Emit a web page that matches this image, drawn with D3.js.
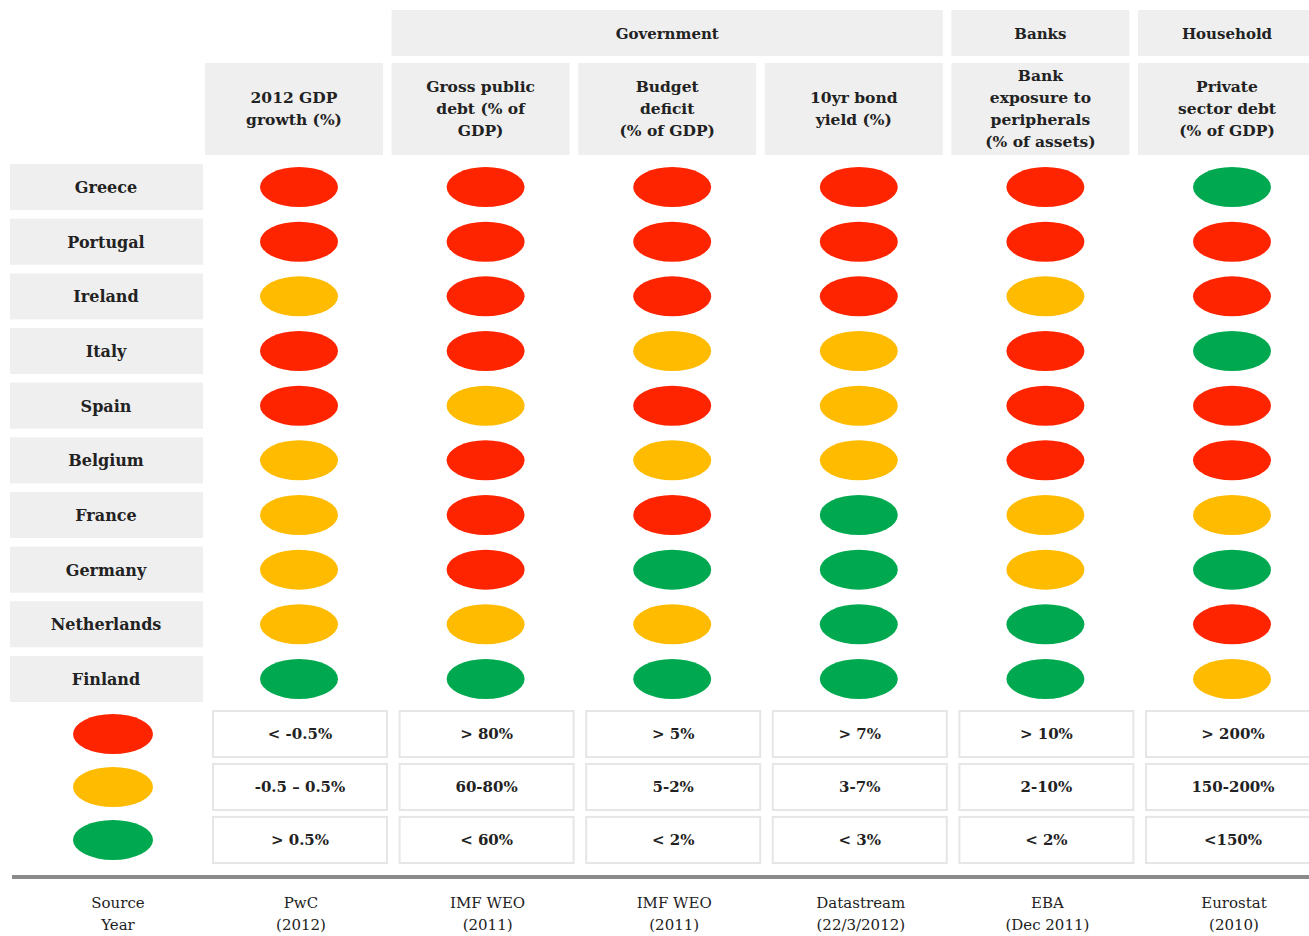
<html lang="en">
<head>
<style>
body { margin: 0; background: #fff; }
text { font-family: "DejaVu Serif", Georgia, serif; fill: #222; }
</style>
</head>
<body>
<div id="chart"></div>
<script type='text/javascript' src='https://d3js.org/d3.v7.min.js'></script>
<script>
// countries (rows) and indicators (columns)
const countries = ["Greece", "Portugal", "Ireland", "Italy", "Spain", "Belgium", "France", "Germany", "Netherlands", "Finland"];
const indicators = ["gdp", "debt", "deficit", "bond", "banks", "private"];
const headerLines = [
  ["2012 GDP", "growth (%)"],
  ["Gross public", "debt (% of", "GDP)"],
  ["Budget", "deficit", "(% of GDP)"],
  ["10yr bond", "yield (%)"],
  ["Bank", "exposure to", "peripherals", "(% of assets)"],
  ["Private", "sector debt", "(% of GDP)"]
];
const groups = [
  {name: "Government", from: "debt", to: "bond"},
  {name: "Banks", from: "banks", to: "banks"},
  {name: "Household", from: "private", to: "private"}
];
// R = red, Y = amber, G = green, one string per country in indicator order
const ratings = [
  "RRRRRG", // Greece
  "RRRRRR", // Portugal
  "YRRRYR", // Ireland
  "RRYYRG", // Italy
  "RYRYRR", // Spain
  "YRYYRR", // Belgium
  "YRRGYY", // France
  "YRGGYG", // Germany
  "YYYGGR", // Netherlands
  "GGGGGY"  // Finland
];
const levels = ["R", "Y", "G"];
const thresholds = [
  ["< -0.5%", "-0.5 \u2013 0.5%", "> 0.5%"],
  ["> 80%", "60-80%", "< 60%"],
  ["> 5%", "5-2%", "< 2%"],
  ["> 7%", "3-7%", "< 3%"],
  ["> 10%", "2-10%", "< 2%"],
  ["> 200%", "150-200%", "<150%"]
];
const sources = [
  ["Source", "Year"],
  ["PwC", "(2012)"],
  ["IMF WEO", "(2011)"],
  ["IMF WEO", "(2011)"],
  ["Datastream", "(22/3/2012)"],
  ["EBA", "(Dec 2011)"],
  ["Eurostat", "(2010)"]
];

const W = 1309, H = 936;
const colors = d3.scaleOrdinal().domain(levels).range(["#ff2400", "#ffbb00", "#00a94f"]);
const boxFill = "#efefef";

const svg = d3.select("#chart").append("svg")
  .attr("width", W).attr("height", H);

// scales
const x = d3.scaleBand().domain(indicators).range([205, 1316]).paddingInner(0.046);
const y = d3.scaleBand().domain(countries).range([164, 704]).paddingInner(0.12);
const yLeg = d3.scaleBand().domain(levels).range([711, 863]).paddingInner(0.13);
const dotShift = 5;

// group headers
svg.selectAll(".grp").data(groups).enter().append("rect")
  .attr("x", d => x(d.from))
  .attr("y", 10)
  .attr("width", d => x(d.to) + x.bandwidth() - x(d.from))
  .attr("height", 46)
  .attr("fill", boxFill);
svg.selectAll(".grpt").data(groups).enter().append("text")
  .attr("x", d => (x(d.from) + x(d.to) + x.bandwidth()) / 2)
  .attr("y", 39)
  .attr("text-anchor", "middle")
  .attr("font-weight", "bold")
  .attr("font-size", 15)
  .text(d => d.name);

// column headers
svg.selectAll(".hdr").data(indicators).enter().append("rect")
  .attr("x", d => x(d))
  .attr("y", 63)
  .attr("width", x.bandwidth())
  .attr("height", 92)
  .attr("fill", boxFill);
indicators.forEach(function(ind, i) {
  const lines = headerLines[i];
  const lh = 22;
  const y0 = 109 - (lines.length - 1) * lh / 2 + 5;
  svg.append("text")
    .attr("text-anchor", "middle")
    .attr("font-weight", "bold")
    .attr("font-size", 15.5)
    .selectAll("tspan").data(lines).enter().append("tspan")
    .attr("x", x(ind) + x.bandwidth() / 2)
    .attr("y", (d, j) => y0 + j * lh)
    .text(d => d);
});

// country labels
svg.selectAll(".cty").data(countries).enter().append("rect")
  .attr("x", 10)
  .attr("y", d => y(d))
  .attr("width", 193)
  .attr("height", y.bandwidth() - 2)
  .attr("fill", boxFill);
svg.selectAll(".ctyt").data(countries).enter().append("text")
  .attr("x", 106)
  .attr("y", d => y(d) + y.bandwidth() / 2 + 5)
  .attr("text-anchor", "middle")
  .attr("font-weight", "bold")
  .attr("font-size", 16)
  .text(d => d);

// rating dots
const cells = [];
countries.forEach(function(c, i) {
  indicators.forEach(function(ind, j) {
    cells.push({country: c, ind: ind, level: ratings[i][j]});
  });
});
svg.selectAll(".dot").data(cells).enter().append("ellipse")
  .attr("cx", d => x(d.ind) + x.bandwidth() / 2 + dotShift)
  .attr("cy", d => y(d.country) + y.bandwidth() / 2 - 1)
  .attr("rx", 39)
  .attr("ry", 20)
  .attr("fill", d => colors(d.level));

// legend dots
svg.selectAll(".leg").data(levels).enter().append("ellipse")
  .attr("cx", 113)
  .attr("cy", d => yLeg(d) + yLeg.bandwidth() / 2)
  .attr("rx", 40)
  .attr("ry", 20)
  .attr("fill", d => colors(d));

// threshold boxes
const legCells = [];
indicators.forEach(function(ind, j) {
  levels.forEach(function(l, k) {
    legCells.push({ind: ind, level: l, label: thresholds[j][k]});
  });
});
svg.selectAll(".thr").data(legCells).enter().append("rect")
  .attr("x", d => x(d.ind) + 8)
  .attr("y", d => yLeg(d.level))
  .attr("width", x.bandwidth() - 4)
  .attr("height", yLeg.bandwidth())
  .attr("fill", "#fff")
  .attr("stroke", "#e6e6e6")
  .attr("stroke-width", 2);
svg.selectAll(".thrt").data(legCells).enter().append("text")
  .attr("x", d => x(d.ind) + x.bandwidth() / 2 + 6)
  .attr("y", d => yLeg(d.level) + yLeg.bandwidth() / 2 + 5)
  .attr("text-anchor", "middle")
  .attr("font-weight", "bold")
  .attr("font-size", 15)
  .text(d => d.label);

// rule
svg.append("line")
  .attr("x1", 12).attr("x2", W)
  .attr("y1", 877).attr("y2", 877)
  .attr("stroke", "#8a8a8a")
  .attr("stroke-width", 4);

// sources
const srcX = [118].concat(indicators.map(d => x(d) + x.bandwidth() / 2 + 7));
sources.forEach(function(s, i) {
  svg.append("text")
    .attr("text-anchor", "middle")
    .attr("font-size", 15)
    .attr("font-family", "'Liberation Serif', serif")
    .attr("fill", "#333")
    .selectAll("tspan").data(s).enter().append("tspan")
    .attr("x", srcX[i])
    .attr("y", (d, j) => 908 + j * 22)
    .text(d => d);
});
</script>
</body>
</html>
